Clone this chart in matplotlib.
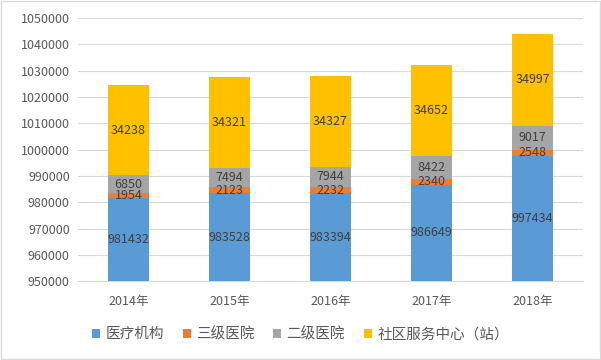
import matplotlib
matplotlib.use("Agg")
import matplotlib.pyplot as plt
from matplotlib.patches import Rectangle

plt.rcParams['font.family'] = ['Noto Sans CJK SC', 'DejaVu Sans']

categories = ['2014年', '2015年', '2016年', '2017年', '2018年']
series_names = ['医疗机构', '三级医院', '二级医院', '社区服务中心（站）']
medical = [981432, 983528, 983394, 986649, 997434]
tier3 = [1954, 2123, 2232, 2340, 2548]
tier2 = [6850, 7494, 7944, 8422, 9017]
community = [34238, 34321, 34327, 34652, 34997]
colors = ['#5B9BD5', '#ED7D31', '#A5A5A5', '#FFC000']
yticks = list(range(950000, 1050001, 10000))

fig = plt.figure(figsize=(6.01, 3.6), dpi=100)
ax = fig.add_axes([0.13, 0.219, 0.84, 0.731])

x = list(range(len(categories)))
ymin = 950000
bottoms = [0] * len(categories)
all_series = [medical, tier3, tier2, community]
for vals, name, col in zip(all_series, series_names, colors):
    bars = ax.bar(x, vals, bottom=bottoms, width=0.4, color=col, label=name, zorder=3)
    for xi, b, v in zip(x, bottoms, vals):
        lo = max(b, ymin)
        hi = b + v
        ax.text(xi, (lo + hi) / 2, str(v), ha='center', va='center',
                fontsize=9, color='#404040', zorder=4)
    bottoms = [b + v for b, v in zip(bottoms, vals)]

ax.set_ylim(950000, 1050000)
ax.set_xlim(-0.5, len(categories) - 0.5)
ax.set_yticks(yticks)
ax.set_yticklabels([str(t) for t in yticks])
ax.set_xticks(x)
ax.set_xticklabels(categories)
ax.tick_params(axis='both', length=0, labelsize=9, colors='#595959')
ax.tick_params(axis='x', pad=10)
ax.tick_params(axis='y', pad=6)
ax.grid(axis='y', color='#D9D9D9', linewidth=0.8, zorder=0)
for s in ['top', 'right', 'left']:
    ax.spines[s].set_visible(False)
ax.spines['bottom'].set_color('#D9D9D9')

leg = fig.legend(loc='center', bbox_to_anchor=(0.5, 0.072), ncol=4, frameon=False,
                 fontsize=10.5, handlelength=0.55, handleheight=0.55, handletextpad=0.35,
                 columnspacing=1.3)
for t in leg.get_texts():
    t.set_color('#595959')

fig.patches.append(Rectangle((0.002, 0.003), 0.996, 0.994, transform=fig.transFigure,
                             fill=False, edgecolor='#D9D9D9', linewidth=1))

fig.savefig('out.png', dpi=100)
